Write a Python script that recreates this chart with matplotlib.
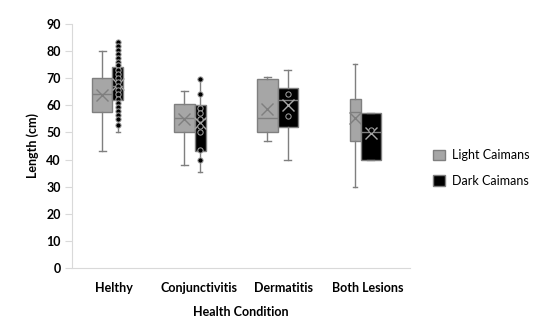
import matplotlib
matplotlib.use('Agg')
import matplotlib.pyplot as plt
from matplotlib.patches import Patch

plt.rcParams['font.family'] = ['Lato', 'DejaVu Sans']

# categories and box statistics
categories = ["Helthy", "Conjunctivitis", "Dermatitis", "Both Lesions"]

light_whislo = [43, 38, 47, 30]
light_q1 = [57.4, 50, 50, 46.8]
light_med = [64.2, 55.4, 55.2, 57.7]
light_q3 = [70.2, 60.5, 69.6, 62.2]
light_whishi = [80, 65.3, 70.3, 75.2]
light_mean = [63.7, 54.8, 58.6, 55.2]

dark_whislo = [50.3, 35.5, 40, 39.8]
dark_q1 = [62, 43.3, 52, 39.8]
dark_med = [67, 55, 62, 50]
dark_q3 = [74.2, 60, 66.3, 57]
dark_whishi = [83.5, 69.6, 73, 57]
dark_mean = [68, 53.5, 60, 49.7]

# individual points shown for the dark caimans
dark_points = [
    [83.5, 82, 80.5, 79, 77.5, 76, 75, 73, 71.5, 70, 68.5, 67, 65.5, 64, 62.5,
     61, 59.5, 58, 56.5, 55, 52.7],
    [69.6, 64, 59, 57, 55, 52.5, 50, 43.5, 40],
    [64.2, 56.2],
    [51],
]

# layout of the boxes (Excel sizes them unevenly)
light_pos = [0.858, 1.828, 2.81, 3.852]
light_w = [0.237, 0.249, 0.249, 0.13]
dark_pos = [1.041, 2.018, 3.053, 4.036]
dark_w = [0.13, 0.13, 0.237, 0.237]

fig = plt.figure(figsize=(5.49, 3.25), dpi=100)
ax = fig.add_axes([72 / 549, 57 / 325, 338 / 549, 244 / 325])

grey = "#7f7f7f"


def make_stats(lo, q1, med, q3, hi, mean):
    return [dict(whislo=a, q1=b, med=c, q3=d, whishi=e, mean=f, fliers=[])
            for a, b, c, d, e, f in zip(lo, q1, med, q3, hi, mean)]


for stats, pos, widths, fill, meancol in [
    (make_stats(light_whislo, light_q1, light_med, light_q3, light_whishi, light_mean),
     light_pos, light_w, "#a6a6a6", grey),
    (make_stats(dark_whislo, dark_q1, dark_med, dark_q3, dark_whishi, dark_mean),
     dark_pos, dark_w, "#000000", "#a6a6a6"),
]:
    bp = ax.bxp(stats, positions=pos, widths=widths, patch_artist=True,
                showmeans=True, showfliers=False,
                boxprops=dict(facecolor=fill, edgecolor=grey, linewidth=1.0),
                medianprops=dict(color=grey, linewidth=1.0),
                whiskerprops=dict(color=grey, linewidth=1.0),
                capprops=dict(color=grey, linewidth=1.0),
                meanprops=dict(marker="x", markeredgecolor=meancol, markersize=8,
                               markeredgewidth=1.0),
                capwidths=[w * 0.35 for w in widths], zorder=2)

for p, pts in zip(dark_pos, dark_points):
    ax.plot([p] * len(pts), pts, ls="none", marker="o", markersize=3.8,
            markerfacecolor="black", markeredgecolor="#a8a8a8",
            markeredgewidth=0.7, zorder=3)

ax.set_xlim(0.5, 4.5)
ax.set_ylim(0, 90)
ax.set_yticks(range(0, 91, 10))
ax.set_xticks([1, 2, 3, 4])
ax.set_xticklabels(categories, fontweight="bold", fontsize=9)
for lab in ax.get_yticklabels():
    lab.set_fontweight("bold")
    lab.set_fontsize(9)

for s in ["top", "right"]:
    ax.spines[s].set_visible(False)
ax.spines["left"].set_color("#d9d9d9")
ax.spines["bottom"].set_color("#d9d9d9")
ax.tick_params(axis="y", color="#d9d9d9", length=5, pad=3)
ax.tick_params(axis="x", length=0, pad=10)

ax.set_ylabel("Length (cm)", fontweight="bold", fontsize=9, labelpad=5)
ax.set_xlabel("Health Condition", fontweight="bold", fontsize=9, labelpad=9)

handles = [Patch(facecolor="#a6a6a6", edgecolor=grey, label="Light Caimans"),
           Patch(facecolor="black", edgecolor=grey, label="Dark Caimans")]
fig.legend(handles=handles, loc="center left", bbox_to_anchor=(422 / 549, 1 - 168 / 325),
           frameon=False, fontsize=9, handlelength=0.9, handleheight=0.9,
           labelspacing=1.1, handletextpad=0.6)

fig.savefig("out.png", dpi=100)
